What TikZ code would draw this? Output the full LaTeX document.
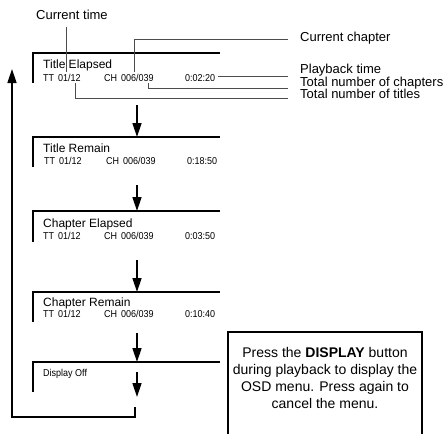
\documentclass[tikz,border=0pt]{standalone}
\usepackage{fontspec}
\setmainfont{Liberation Sans}
\newfontfamily\osdnarrow[FakeStretch=0.9]{Liberation Sans}
\usetikzlibrary{arrows.meta}
\tikzset{%
  >={Triangle[width=9pt,length=14pt]},
  % Specifications for style of nodes:
     osdtitle/.style = {anchor=base west, inner sep=0pt, font=\fontsize{12}{14}\selectfont},
       osdrow/.style = {anchor=base west, inner sep=0pt, font=\osdnarrow\fontsize{10}{12}\selectfont},
      callout/.style = {anchor=base west, inner sep=0pt, font=\fontsize{13}{15}\selectfont},
     notetext/.style = {align=center, inner sep=0pt, font=\fontsize{14}{17}\selectfont},
       screen/.style = {line width=1.8pt},
       leader/.style = {line width=0.7pt, black!70},
     stepline/.style = {line width=1.5pt},
}

\begin{document}
\begin{tikzpicture}[x=1pt, y=-1pt]
  \useasboundingbox (0,0) rectangle (447,434);
  % the five screens
  \coordinate (s1) at (33,53);
  \coordinate (s2) at (33,137);
  \coordinate (s3) at (33,211);
  \coordinate (s4) at (33,292);
  \coordinate (s5) at (33,362);
  \draw[screen] (s1) ++(0,30) |- ++(187,-30);
  \draw[screen] (s2) ++(0,30) |- ++(187,-30);
  \draw[screen] (s3) ++(0,31) |- ++(187,-31);
  \draw[screen] (s4) ++(0,30) |- ++(187,-30);
  \draw[screen] (s5) ++(0,30) |- ++(187,-30);

  \node (t1)  [osdtitle] at (43,68)  {Title Elapsed};
  \node (tt1) [osdrow]   at (43,81)  {TT\hspace{4pt}01/12};
  \node (ch1) [osdrow]   at (104,81) {CH\hspace{4pt}006/039};
  \node (tm1) [osdrow]   at (185,81) {0:02:20};

  \node (t2)  [osdtitle] at (43,152)  {Title Remain};
  \node (tt2) [osdrow]   at (44,164)  {TT\hspace{4pt}01/12};
  \node (ch2) [osdrow]   at (106,164) {CH\hspace{4pt}006/039};
  \node (tm2) [osdrow]   at (187,164) {0:18:50};

  \node (t3)  [osdtitle] at (43,227)  {Chapter Elapsed};
  \node (tt3) [osdrow]   at (43,239)  {TT\hspace{4pt}01/12};
  \node (ch3) [osdrow]   at (104,239) {CH\hspace{4pt}006/039};
  \node (tm3) [osdrow]   at (185,239) {0:03:50};

  \node (t4)  [osdtitle] at (43,306)  {Chapter Remain};
  \node (tt4) [osdrow]   at (43,317)  {TT\hspace{4pt}01/12};
  \node (ch4) [osdrow]   at (104,317) {CH\hspace{4pt}006/039};
  \node (tm4) [osdrow]   at (185,317) {0:10:40};

  \node (t5)  [osdrow] at (43,376) {Display Off};

  % steps between the screens
  \coordinate (a1) at (137,105);
  \coordinate (a2) at (137,185);
  \coordinate (a3) at (137,260);
  \coordinate (a4) at (137,333);
  \coordinate (a5) at (137,372);
  \coordinate (a5end) at (137,397);
  \draw[->, stepline] (a1) -- (a1 |- s2);
  \draw[->, stepline] (a2) -- (a2 |- s3);
  \draw[->, stepline] (a3) -- (a3 |- s4);
  \draw[->, stepline] (a4) -- (a4 |- s5);
  \draw[->, stepline] (a5) -- (a5end);
  \coordinate (loopstart) at (135,407);
  \coordinate (loopend) at (12,69);
  \draw[->, stepline] (loopstart) -- ++(0,10) -| (loopend);

  % callouts
  \node (lcurtime)  [callout] at (36,19)  {Current time};
  \node (lcurchap)  [callout] at (300,41) {Current chapter};
  \node (lplay)     [callout] at (300,73.5) {Playback time};
  \node (ltotchap)  [callout] at (300,86) {Total number of chapters};
  \node (ltottit)   [callout] at (300,98.5) {Total number of titles};

  \coordinate (ptime)    at (66,72);
  \coordinate (pchap)    at (134,72);
  \coordinate (pplay)    at (218,76);
  \coordinate (ptotchap) at (148,83);
  \coordinate (ptottit)  at (75,83);
  \draw[leader] (ptime) -- ([yshift=-8pt]lcurtime.south -| ptime);
  \draw[leader] (pchap) |- ([xshift=-12pt,yshift=2pt]lcurchap.base west);
  \draw[leader] (pplay) -- ([xshift=-12pt]pplay -| lplay.west);
  \draw[leader] (ptotchap) |- ([xshift=-12pt,yshift=-2pt]ltotchap.base west);
  \draw[leader] (ptottit) |- ([xshift=-12pt]ltottit.base west);

  % note box, open at the bottom
  \node (note) [notetext] at (325,378) {Press the \textbf{DISPLAY} button\\during playback to display the\\OSD menu. Press again to\\cancel the menu.};
  \coordinate (nbl) at (228,434);
  \coordinate (ntr) at (422,332);
  \draw[line width=1.5pt] (nbl) |- (ntr) -- (ntr |- nbl);
\end{tikzpicture}
\end{document}
